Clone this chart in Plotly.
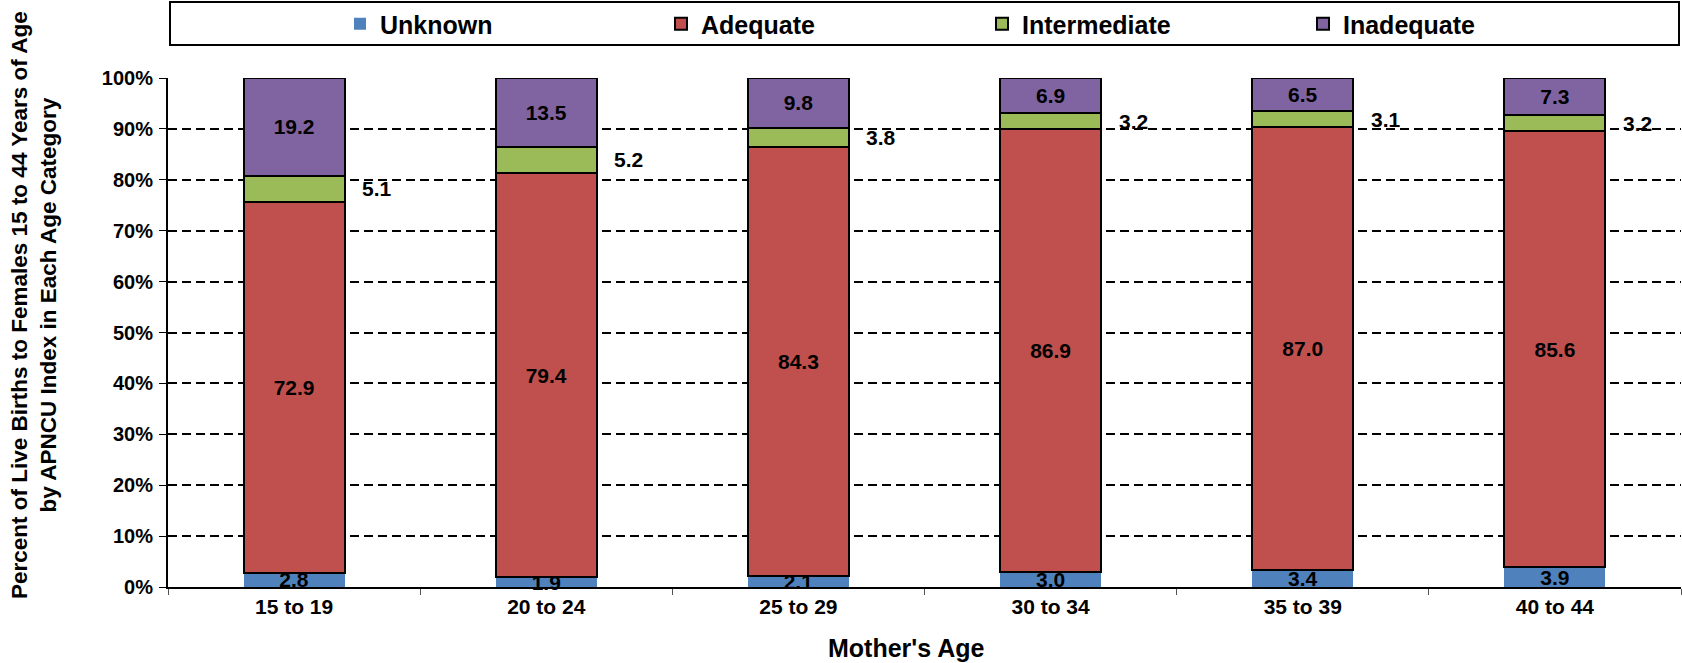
import plotly.graph_objects as go

categories = ["15 to 19", "20 to 24", "25 to 29", "30 to 34", "35 to 39", "40 to 44"]
unknown = [2.8, 1.9, 2.1, 3.0, 3.4, 3.9]
adequate = [72.9, 79.4, 84.3, 86.9, 87.0, 85.6]
intermediate = [5.1, 5.2, 3.8, 3.2, 3.1, 3.2]
inadequate = [19.2, 13.5, 9.8, 6.9, 6.5, 7.3]
y_ticks = [0, 10, 20, 30, 40, 50, 60, 70, 80, 90, 100]

FONT = "Liberation Sans, Arial, sans-serif"
W, H = 1682, 663
PLOT_L, PLOT_R, PLOT_T, PLOT_B = 168, 1681, 78, 587
ML, MR, MT, MB = PLOT_L, W - PLOT_R, PLOT_T, H - PLOT_B
PW, PH = PLOT_R - PLOT_L, PLOT_B - PLOT_T

def px_x(x):
    return (x - PLOT_L) / PW

def px_y(y):
    return (PLOT_B - y) / PH

fig = go.Figure()
outline = dict(color="black", width=2)
lbl_font = dict(family=FONT, size=21, color="black", weight="bold")

fig.add_trace(go.Bar(name="Unknown", x=categories, y=unknown, marker=dict(color="#4F81BD", line=dict(width=0)),
                     text=[f"{v:.1f}" for v in unknown], textposition="inside", insidetextanchor="middle",
                     constraintext="none", textfont=lbl_font, cliponaxis=False))
fig.add_trace(go.Bar(name="Adequate", x=categories, y=adequate, marker=dict(color="#C0504D", line=outline),
                     text=[f"{v:.1f}" for v in adequate], textposition="inside", insidetextanchor="middle",
                     constraintext="none", textfont=lbl_font, cliponaxis=False))
fig.add_trace(go.Bar(name="Intermediate", x=categories, y=intermediate, marker=dict(color="#9BBB59", line=outline),
                     cliponaxis=False))
fig.add_trace(go.Bar(name="Inadequate", x=categories, y=inadequate, marker=dict(color="#8064A2", line=outline),
                     text=[f"{v:.1f}" for v in inadequate], textposition="inside", insidetextanchor="middle",
                     constraintext="none", textfont=lbl_font, cliponaxis=False))

annotations = []
for c, u, a, m in zip(categories, unknown, adequate, intermediate):
    annotations.append(dict(x=c, y=u + a + m / 2, xref="x", yref="y", text=f"{m:.1f}", showarrow=False,
                            xanchor="left", yanchor="middle", xshift=66, font=lbl_font))

annotations.append(dict(x=px_x(34), y=px_y(305), xref="paper", yref="paper",
                        text="Percent of Live Births to Females 15 to 44 Years of Age<br>by APNCU Index in Each Age Category",
                        textangle=-90, showarrow=False, xanchor="center", yanchor="middle",
                        font=dict(family=FONT, size=22.5, color="black", weight="bold")))
annotations.append(dict(x=px_x(906), y=px_y(648), xref="paper", yref="paper", text="Mother's Age",
                        showarrow=False, xanchor="center", yanchor="middle",
                        font=dict(family=FONT, size=25, color="black", weight="bold")))

fig.update_layout(
    width=W, height=H,
    margin=dict(l=ML, r=MR, t=MT, b=MB, pad=0),
    barmode="stack", bargap=0.6,
    plot_bgcolor="white", paper_bgcolor="white",
    font=dict(family=FONT, color="black", weight="bold"),
    showlegend=True,
    legend=dict(orientation="h", x=px_x(340), xanchor="left", y=px_y(24), yanchor="middle",
                font=dict(family=FONT, size=25, color="black", weight="bold"),
                entrywidth=276, entrywidthmode="pixels", bgcolor="rgba(0,0,0,0)", borderwidth=0,
                traceorder="normal"),
    annotations=annotations,
    shapes=[dict(type="rect", xref="paper", yref="paper", x0=px_x(170), x1=px_x(1679), y0=px_y(45), y1=px_y(2),
                 line=dict(color="black", width=2), fillcolor="rgba(0,0,0,0)")],
)
fig.update_xaxes(type="category", showline=True, linecolor="black", linewidth=2, ticks="outside",
                 tickson="boundaries", ticklen=6, tickcolor="#555", tickwidth=1,
                 tickfont=dict(family=FONT, size=21, color="black", weight="bold"), showgrid=False)
fig.update_yaxes(range=[0, 100.01], tickvals=y_ticks, ticktext=[f"{t}%" for t in y_ticks],
                 showline=True, linecolor="black", linewidth=2, ticks="outside", ticklen=7,
                 tickcolor="black", tickwidth=1, ticklabelstandoff=2,
                 tickfont=dict(family=FONT, size=20, color="black", weight="bold"),
                 showgrid=True, gridcolor="black", gridwidth=1.5, griddash="9px,5px", zeroline=False)

fig.write_html("out.html", config={"displayModeBar": False},
               post_script="document.body.style.margin='0';")
